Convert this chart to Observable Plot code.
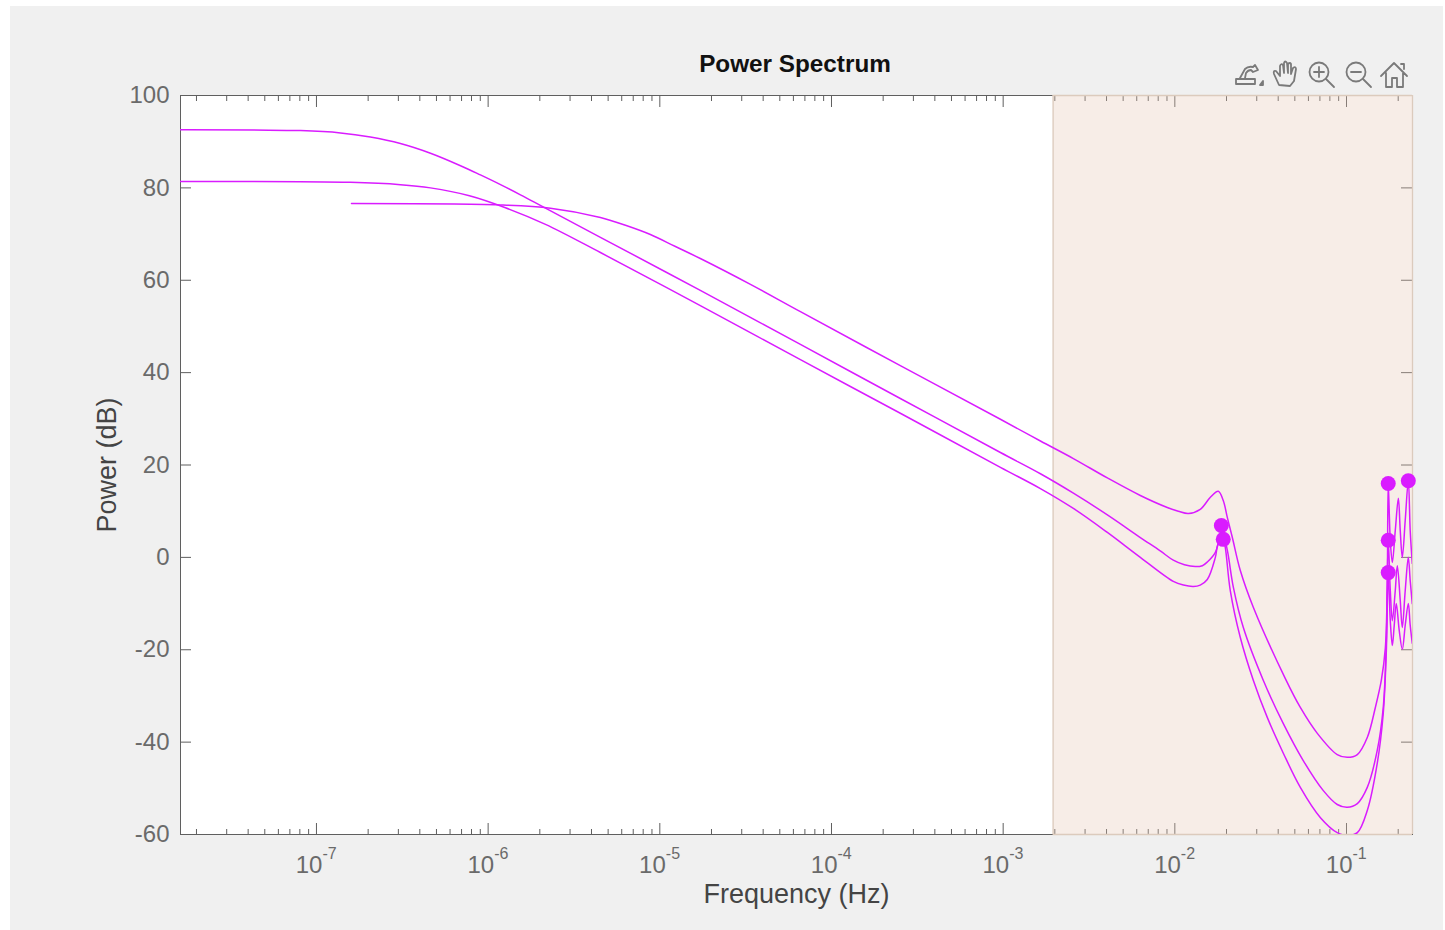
<!DOCTYPE html>
<html>
<head>
<meta charset="utf-8">
<script src="https://cdn.jsdelivr.net/npm/d3@7"></script>
<script src="https://cdn.jsdelivr.net/npm/@observablehq/plot@0.6"></script>
<style>
html,body{margin:0;padding:0;background:#fff;width:1445px;height:930px;overflow:hidden;font-family:"Liberation Sans",Arial,sans-serif}
#panel{position:absolute;left:10px;top:6px;width:1433px;height:924px;background:#f0f0f0}
#chart{position:absolute;left:0;top:0}
#title{position:absolute;left:595px;width:400px;top:50px;text-align:center;font-weight:bold;font-size:24.3px;line-height:28px;color:#111}
#tools{position:absolute;left:0;top:0}
</style>
</head>
<body>
<div id="panel"></div>
<div id="chart"></div>
<div id="title">Power Spectrum</div>
<svg id="tools" width="1445" height="100" fill="none" stroke="#7a7a7a" stroke-width="1.8" stroke-linejoin="round" stroke-linecap="round">
  <path d="M1236 84h19v-5h-19z M1240 78l5-9q3-3 8-2l2-2 3 5-5 2-2-2q-3 0-5 3l-1 5"/>
  <path d="M1260 85l3-4v4z" fill="#7a7a7a"/>
  <path d="M1279 85l-5-11q-1-4 2-3l4 5v-10q1-3 3-1l1 8v-10q1-3 3 0l1 10v-9q2-2 3 0v10l2-6q3-2 3 1l-2 12-4 5z"/>
  <circle cx="1319" cy="72" r="9.5"/><path d="M1326 79l8 8M1314 72h10M1319 67v10"/>
  <circle cx="1356" cy="72" r="9.5"/><path d="M1363 79l8 8M1351 72h10"/>
  <path d="M1381 76l13-13 13 13M1386 73v14h6v-9h5v9h6v-14M1401 64h3v5"/>
</svg>
<script>
const decades = [-7, -6, -5, -4, -3, -2, -1];
const minorDecades = [-8, -7, -6, -5, -4, -3, -2, -1];
const minorMultipliers = [2, 3, 4, 5, 6, 7, 8, 9];
const powerTicks = [-60, -40, -20, 0, 20, 40, 60, 80, 100];
const domainExp = [-7.792, -0.6156];
const shadedExp = [-2.709, -0.6156];

const exponentsA = [-7.792,-7.093,-6.860,-6.686,-6.511,-6.336,-6.161,-6.045,-5.928,-5.812,-5.666,-5.346,-4.764,-4.181,-3.599,-3.016,-2.783,-2.591,-2.393,-2.201,-2.085,-2.009,-1.944,-1.881,-1.840,-1.811,-1.764,-1.735,-1.729,-1.694,-1.659,-1.601,-1.485,-1.368,-1.252,-1.135,-1.054,-0.996,-0.937,-0.879,-0.821,-0.786,-0.768,-0.757,-0.745,-0.733,-0.716,-0.704,-0.687,-0.675,-0.658,-0.640,-0.629,-0.617];
const powerA = [92.6,92.4,91.9,91.0,89.6,87.5,84.8,82.8,80.7,78.5,75.6,69.3,57.8,46.1,34.4,22.7,18.1,13.9,9.2,4.3,1.4,-0.6,-1.6,-2.0,-1.8,-1.0,1.1,5.2,6.9,1.5,-6.5,-15.2,-26.6,-36.0,-44.0,-50.5,-53.5,-54.1,-53.3,-49.8,-41.8,-32.5,-18.0,3.7,-7.2,-13.7,-7.2,-1.8,-9.3,-15.2,-7.2,0,-5.0,-10.0];

const exponentsB = [-7.792,-6.802,-6.511,-6.336,-6.109,-5.899,-5.666,-5.346,-4.764,-4.181,-3.599,-3.016,-2.783,-2.591,-2.393,-2.201,-2.009,-1.950,-1.892,-1.852,-1.811,-1.764,-1.747,-1.718,-1.706,-1.677,-1.619,-1.543,-1.461,-1.368,-1.269,-1.153,-1.054,-0.996,-0.937,-0.879,-0.821,-0.786,-0.768,-0.757,-0.745,-0.733,-0.722,-0.710,-0.693,-0.675,-0.658,-0.640,-0.629,-0.617];
const powerB = [81.4,81.2,80.7,80.0,78.3,75.7,72.1,66.0,54.5,42.8,31.2,19.5,14.9,10.6,5.4,0,-5.2,-6.0,-6.3,-6.0,-4.8,0,3.0,3.9,2.1,-7.2,-17.3,-26.6,-34.7,-42.4,-49.8,-56.3,-59.6,-60.2,-59.6,-54.8,-44.6,-33.8,-20.2,-3.3,-13.7,-19.1,-14.7,-10.0,-15.8,-19.9,-14.7,-10.0,-14.7,-18.6];

const exponentsC = [-6.796,-5.928,-5.637,-5.346,-5.200,-5.055,-4.909,-4.764,-4.472,-4.181,-3.599,-3.016,-2.783,-2.591,-2.393,-2.201,-2.044,-1.980,-1.921,-1.852,-1.793,-1.747,-1.718,-1.694,-1.665,-1.619,-1.543,-1.357,-1.269,-1.170,-1.054,-0.996,-0.937,-0.879,-0.832,-0.797,-0.774,-0.763,-0.757,-0.745,-0.733,-0.716,-0.698,-0.687,-0.675,-0.658,-0.640,-0.629,-0.617];
const powerC = [76.6,76.3,75.6,73.6,71.9,69.9,67.3,64.7,59.1,53.2,41.5,29.9,25.2,21.4,17.2,13.4,10.8,10.0,9.5,10.4,13.0,14.3,12.3,8.6,4.3,-2.8,-10.8,-26.2,-32.5,-38.1,-42.7,-43.3,-42.7,-39.0,-32.5,-26.6,-19.7,-7.2,16.0,3.7,-1.1,5.8,12.8,5.8,0,8.0,16.6,5.8,-1.3];

const peakExponents = [-1.729,-1.718,-0.757,-0.757,-0.757,-0.640];
const peakPower = [6.9,3.9,16.0,3.7,-3.3,16.6];

const hz = (e) => 10 ** e;
const toRows = (xs, ys) => xs.map((e, i) => ({f: hz(e), p: ys[i]}));
const minorTicks = minorDecades.flatMap((d) => minorMultipliers.map((m) => m * hz(d)))
  .filter((f) => f > hz(domainExp[0]) && f < hz(domainExp[1]));
const majorTicks = decades.map(hz);

const lineColor = "#d91cff";
const tickColor = "#5f5f5f";
const curveOpts = {x: "f", y: "p", stroke: lineColor, strokeWidth: 1.5, curve: "catmull-rom", clip: true};
const tickAxis = (mark, anchor, ticks, size) => mark({anchor, ticks, tickSize: -size, tickFormat: () => "", stroke: tickColor, label: null, color: tickColor});

const chart = Plot.plot({
  width: 1445, height: 930,
  marginLeft: 180, marginRight: 33, marginTop: 95, marginBottom: 96,
  style: {background: "transparent", fontFamily: "'Liberation Sans', Arial, sans-serif", overflow: "visible"},
  x: {type: "log", domain: domainExp.map(hz), axis: null},
  y: {domain: [-60, 100], axis: null},
  marks: [
    Plot.rect([{a: hz(domainExp[0]), b: hz(domainExp[1])}], {x1: "a", x2: "b", y1: -60, y2: 100, fill: "#fff"}),
    tickAxis(Plot.axisX, "bottom", majorTicks, 11),
    tickAxis(Plot.axisX, "bottom", minorTicks, 5),
    tickAxis(Plot.axisX, "top", majorTicks, 11),
    tickAxis(Plot.axisX, "top", minorTicks, 5),
    tickAxis(Plot.axisY, "left", powerTicks, 11),
    tickAxis(Plot.axisY, "right", powerTicks, 12),
    Plot.frame({anchor: "left", stroke: tickColor}),
    Plot.frame({anchor: "bottom", stroke: tickColor}),
    Plot.frame({anchor: "top", stroke: tickColor}),
    Plot.rect([{a: hz(shadedExp[0]), b: hz(shadedExp[1])}], {x1: "a", x2: "b", y1: -60, y2: 100, fill: "#e3c4ae", fillOpacity: 0.3}),
    Plot.ruleX([hz(shadedExp[0]), hz(shadedExp[1])], {stroke: "#dccbbd", strokeWidth: 1.3}),
    Plot.ruleY([-60, 100], {x1: hz(shadedExp[0]), x2: hz(shadedExp[1]), stroke: "#dccbbd", strokeWidth: 1.3}),
    Plot.axisY({anchor: "left", ticks: powerTicks, tickSize: 0, tickPadding: 11, tickFormat: (d) => String(d), fontSize: 24, color: "#6a6a6a", label: null}),
    Plot.text(decades, {x: hz, text: () => "10", frameAnchor: "bottom", lineAnchor: "bottom", textAnchor: "end", dx: 6, dy: 38, fontSize: 24, fill: "#6a6a6a"}),
    Plot.text(decades, {x: hz, text: (d) => String(d), frameAnchor: "bottom", lineAnchor: "bottom", textAnchor: "start", dx: 6, dy: 24, fontSize: 16, fill: "#6a6a6a"}),
    Plot.text(["Frequency (Hz)"], {frameAnchor: "bottom", lineAnchor: "middle", dy: 60, fontSize: 27, fill: "#444"}),
    Plot.text(["Power (dB)"], {frameAnchor: "left", lineAnchor: "middle", textAnchor: "middle", rotate: -90, dx: -73, fontSize: 27, fill: "#444"}),
    Plot.line(toRows(exponentsA, powerA), curveOpts),
    Plot.line(toRows(exponentsB, powerB), curveOpts),
    Plot.line(toRows(exponentsC, powerC), curveOpts),
    Plot.dot(toRows(peakExponents, peakPower), {x: "f", y: "p", r: 7.5, fill: lineColor, stroke: "none"})
  ]
});
document.getElementById("chart").appendChild(chart);
</script>
</body>
</html>
